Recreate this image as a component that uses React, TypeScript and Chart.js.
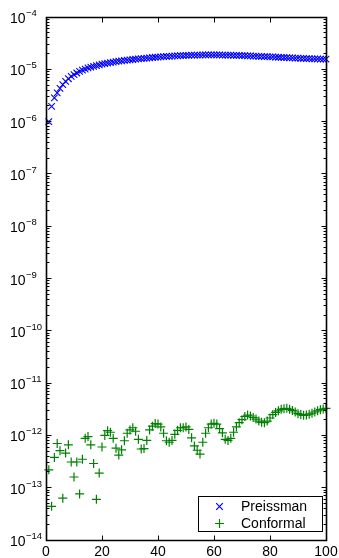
import React, { useEffect, useRef } from "react";
import { Chart, registerables } from "chart.js";

Chart.register(...registerables);

const xIndex = [
  1, 2, 3, 4, 5, 6, 7, 8, 9, 10, 11, 12, 13, 14, 15, 16, 17, 18, 19, 20,
  21, 22, 23, 24, 25, 26, 27, 28, 29, 30, 31, 32, 33, 34, 35, 36, 37, 38, 39, 40,
  41, 42, 43, 44, 45, 46, 47, 48, 49, 50, 51, 52, 53, 54, 55, 56, 57, 58, 59, 60,
  61, 62, 63, 64, 65, 66, 67, 68, 69, 70, 71, 72, 73, 74, 75, 76, 77, 78, 79, 80,
  81, 82, 83, 84, 85, 86, 87, 88, 89, 90, 91, 92, 93, 94, 95, 96, 97, 98, 99, 100,
];

const preissman = [
  1.0e-6, 1.95e-6, 2.85e-6, 3.55e-6, 4.3e-6, 5.1e-6, 5.9e-6, 6.6e-6, 7.3e-6, 7.9e-6,
  8.5e-6, 9.1e-6, 9.6e-6, 1.01e-5, 1.06e-5, 1.1e-5, 1.14e-5, 1.18e-5, 1.22e-5, 1.25e-5,
  1.28e-5, 1.31e-5, 1.34e-5, 1.37e-5, 1.4e-5, 1.43e-5, 1.45e-5, 1.48e-5, 1.5e-5, 1.52e-5,
  1.54e-5, 1.56e-5, 1.58e-5, 1.6e-5, 1.62e-5, 1.64e-5, 1.66e-5, 1.68e-5, 1.7e-5, 1.71e-5,
  1.73e-5, 1.74e-5, 1.76e-5, 1.77e-5, 1.78e-5, 1.8e-5, 1.81e-5, 1.82e-5, 1.83e-5, 1.84e-5,
  1.85e-5, 1.86e-5, 1.86e-5, 1.87e-5, 1.87e-5, 1.88e-5, 1.88e-5, 1.88e-5, 1.88e-5, 1.88e-5,
  1.88e-5, 1.88e-5, 1.87e-5, 1.87e-5, 1.86e-5, 1.86e-5, 1.85e-5, 1.84e-5, 1.84e-5, 1.83e-5,
  1.82e-5, 1.81e-5, 1.8e-5, 1.79e-5, 1.78e-5, 1.77e-5, 1.76e-5, 1.75e-5, 1.74e-5, 1.73e-5,
  1.72e-5, 1.71e-5, 1.7e-5, 1.69e-5, 1.68e-5, 1.67e-5, 1.66e-5, 1.65e-5, 1.64e-5, 1.63e-5,
  1.62e-5, 1.61e-5, 1.6e-5, 1.6e-5, 1.59e-5, 1.58e-5, 1.58e-5, 1.57e-5, 1.57e-5, 1.56e-5,
];

const conformal = [
  2.2e-13, 4.4e-14, 3.8e-13, 7.0e-13, 5.1e-13, 6.3e-14, 4.6e-13, 6.6e-13, 3.1e-13, 1.6e-13,
  3.1e-13, 7.6e-14, 3.5e-13, 8.8e-13, 9.5e-13, 6.6e-13, 2.9e-13, 6.0e-14, 1.9e-13, 6.0e-13,
  1.0e-12, 1.23e-12, 1.15e-12, 8.8e-13, 5.7e-13, 4.2e-13, 5.3e-13, 7.9e-13, 1.1e-12, 1.27e-12,
  1.4e-12, 1.2e-12, 8.4e-13, 5.5e-13, 5.6e-13, 8.0e-13, 1.27e-12, 1.5e-12, 1.68e-12, 1.65e-12,
  1.45e-12, 1.1e-12, 7.9e-13, 7.4e-13, 8.0e-13, 1.05e-12, 1.25e-12, 1.4e-12, 1.4e-12, 1.45e-12,
  1.3e-12, 9.0e-13, 6.3e-13, 5.2e-13, 4.4e-13, 7.4e-13, 1.1e-12, 1.4e-12, 1.65e-12, 1.7e-12,
  1.65e-12, 1.35e-12, 1.12e-12, 8.4e-13, 8.0e-13, 8.8e-13, 1.15e-12, 1.45e-12, 1.75e-12, 2.0e-12,
  2.3e-12, 2.45e-12, 2.35e-12, 2.2e-12, 2.05e-12, 1.88e-12, 1.78e-12, 1.75e-12, 1.88e-12, 2.15e-12,
  2.5e-12, 2.75e-12, 2.95e-12, 3.15e-12, 3.25e-12, 3.3e-12, 3.15e-12, 3.0e-12, 2.8e-12, 2.6e-12,
  2.5e-12, 2.42e-12, 2.45e-12, 2.55e-12, 2.65e-12, 2.8e-12, 2.95e-12, 3.1e-12, 3.2e-12, 3.3e-12,
];

const seriesNames = ["Preissman", "Conformal"];
const xTickValues = [0, 20, 40, 60, 80, 100];
const yTickExponents = [-4, -5, -6, -7, -8, -9, -10, -11, -12, -13, -14];
const minorMultipliers = [2, 3, 4, 5, 6, 7, 8, 9];

const FONT = '"Liberation Sans", Arial, Helvetica, sans-serif';
const BLUE = "#0000ff";
const GREEN = "#008000";

const axesPlugin = {
  id: "matlabAxes",
  afterDraw(chart: any) {
    const { ctx, chartArea: a, scales } = chart;
    const xs = scales.x;
    const ys = scales.y;
    const L = Math.floor(a.left) + 0.5;
    const R = Math.floor(a.right) + 0.5;
    const T = Math.floor(a.top) + 0.5;
    const B = Math.floor(a.bottom) + 0.5;
    ctx.save();
    ctx.strokeStyle = "#000";
    ctx.lineWidth = 1.6;
    ctx.beginPath();
    ctx.rect(L, T, R - L, B - T);
    ctx.stroke();

    ctx.lineWidth = 1;
    ctx.beginPath();
    xTickValues.forEach((v) => {
      const px = Math.floor(xs.getPixelForValue(v)) + 0.5;
      ctx.moveTo(px, B);
      ctx.lineTo(px, B - 5);
      ctx.moveTo(px, T);
      ctx.lineTo(px, T + 5);
    });
    yTickExponents.forEach((e) => {
      const py = Math.floor(ys.getPixelForValue(Math.pow(10, e))) + 0.5;
      ctx.moveTo(L, py);
      ctx.lineTo(L + 5, py);
      ctx.moveTo(R, py);
      ctx.lineTo(R - 5, py);
    });
    yTickExponents.forEach((e) => {
      if (e === -4) return;
      minorMultipliers.forEach((m) => {
        const py = Math.floor(ys.getPixelForValue(m * Math.pow(10, e))) + 0.5;
        ctx.moveTo(L, py);
        ctx.lineTo(L + 3, py);
        ctx.moveTo(R, py);
        ctx.lineTo(R - 3, py);
      });
    });
    ctx.stroke();

    ctx.fillStyle = "#000";
    yTickExponents.forEach((e) => {
      const py = ys.getPixelForValue(Math.pow(10, e));
      ctx.font = `14px ${FONT}`;
      ctx.textAlign = "right";
      ctx.textBaseline = "alphabetic";
      ctx.fillText("10", 25.5, py + 6);
      ctx.font = `9.5px ${FONT}`;
      ctx.textAlign = "left";
      ctx.fillText("\u2212" + Math.abs(e), 26, py - 1);
    });

    // legend
    const lx = 198.5, ly = 496.5, lw = 124, lh = 35;
    ctx.fillStyle = "#fff";
    ctx.fillRect(lx, ly, lw, lh);
    ctx.strokeStyle = "#000";
    ctx.lineWidth = 1;
    ctx.strokeRect(lx, ly, lw, lh);
    const mx = 219.5;
    const r1 = 506.5;
    const r2 = 523.5;
    ctx.lineWidth = 1.2;
    ctx.strokeStyle = BLUE;
    ctx.beginPath();
    ctx.moveTo(mx - 3.3, r1 - 3.3);
    ctx.lineTo(mx + 3.3, r1 + 3.3);
    ctx.moveTo(mx - 3.3, r1 + 3.3);
    ctx.lineTo(mx + 3.3, r1 - 3.3);
    ctx.stroke();
    ctx.strokeStyle = GREEN;
    ctx.beginPath();
    ctx.moveTo(mx - 4.5, r2);
    ctx.lineTo(mx + 4.5, r2);
    ctx.moveTo(mx, r2 - 4.5);
    ctx.lineTo(mx, r2 + 4.5);
    ctx.stroke();
    ctx.fillStyle = "#000";
    ctx.font = `14px ${FONT}`;
    ctx.textAlign = "left";
    ctx.textBaseline = "alphabetic";
    ctx.fillText(seriesNames[0], 241, 511);
    ctx.fillText(seriesNames[1], 241, 528);
    ctx.restore();
  },
};

export default function App() {
  const ref = useRef<HTMLCanvasElement | null>(null);
  useEffect(() => {
    if (!ref.current) return;
    const chart = new Chart(ref.current, {
      type: "scatter",
      data: {
        datasets: [
          {
            label: seriesNames[0],
            data: xIndex.map((x, i) => ({ x, y: preissman[i] })),
            pointStyle: "crossRot",
            pointRadius: 4.6,
            pointBorderColor: BLUE,
            pointBackgroundColor: BLUE,
            pointBorderWidth: 1.1,
            showLine: false,
            clip: false as any,
          },
          {
            label: seriesNames[1],
            data: xIndex.map((x, i) => ({ x, y: conformal[i] })),
            pointStyle: "cross",
            pointRadius: 4.5,
            pointBorderColor: GREEN,
            pointBackgroundColor: GREEN,
            pointBorderWidth: 1.2,
            showLine: false,
            clip: false as any,
          },
        ],
      },
      options: {
        responsive: false,
        animation: false,
        devicePixelRatio: 1,
        layout: { padding: { top: 17, right: 13, left: 0, bottom: 0 } },
        plugins: {
          legend: { display: false },
          tooltip: { enabled: false },
        },
        scales: {
          x: {
            type: "linear",
            min: 0,
            max: 100,
            grid: { display: false, drawTicks: false },
            border: { display: false },
            ticks: {
              stepSize: 20,
              color: "#000",
              padding: 4,
              maxRotation: 0,
              font: { family: FONT, size: 14 },
            },
            afterFit(scale: any) {
              scale.height = 18;
              scale.paddingLeft = 0;
              scale.paddingRight = 0;
            },
          },
          y: {
            type: "logarithmic",
            min: 1e-14,
            max: 1e-4,
            grid: { display: false, drawTicks: false },
            border: { display: false },
            ticks: { display: false },
            afterFit(scale: any) {
              scale.width = 46;
              scale.paddingTop = 0;
              scale.paddingBottom = 0;
            },
          },
        },
      },
      plugins: [axesPlugin],
    } as any);
    return () => chart.destroy();
  }, []);
  return (
    <div style={{ position: "absolute", left: 0, top: 0, width: 339, height: 558, background: "#fff" }}>
      <canvas ref={ref} width={339} height={558} style={{ display: "block" }} />
    </div>
  );
}
